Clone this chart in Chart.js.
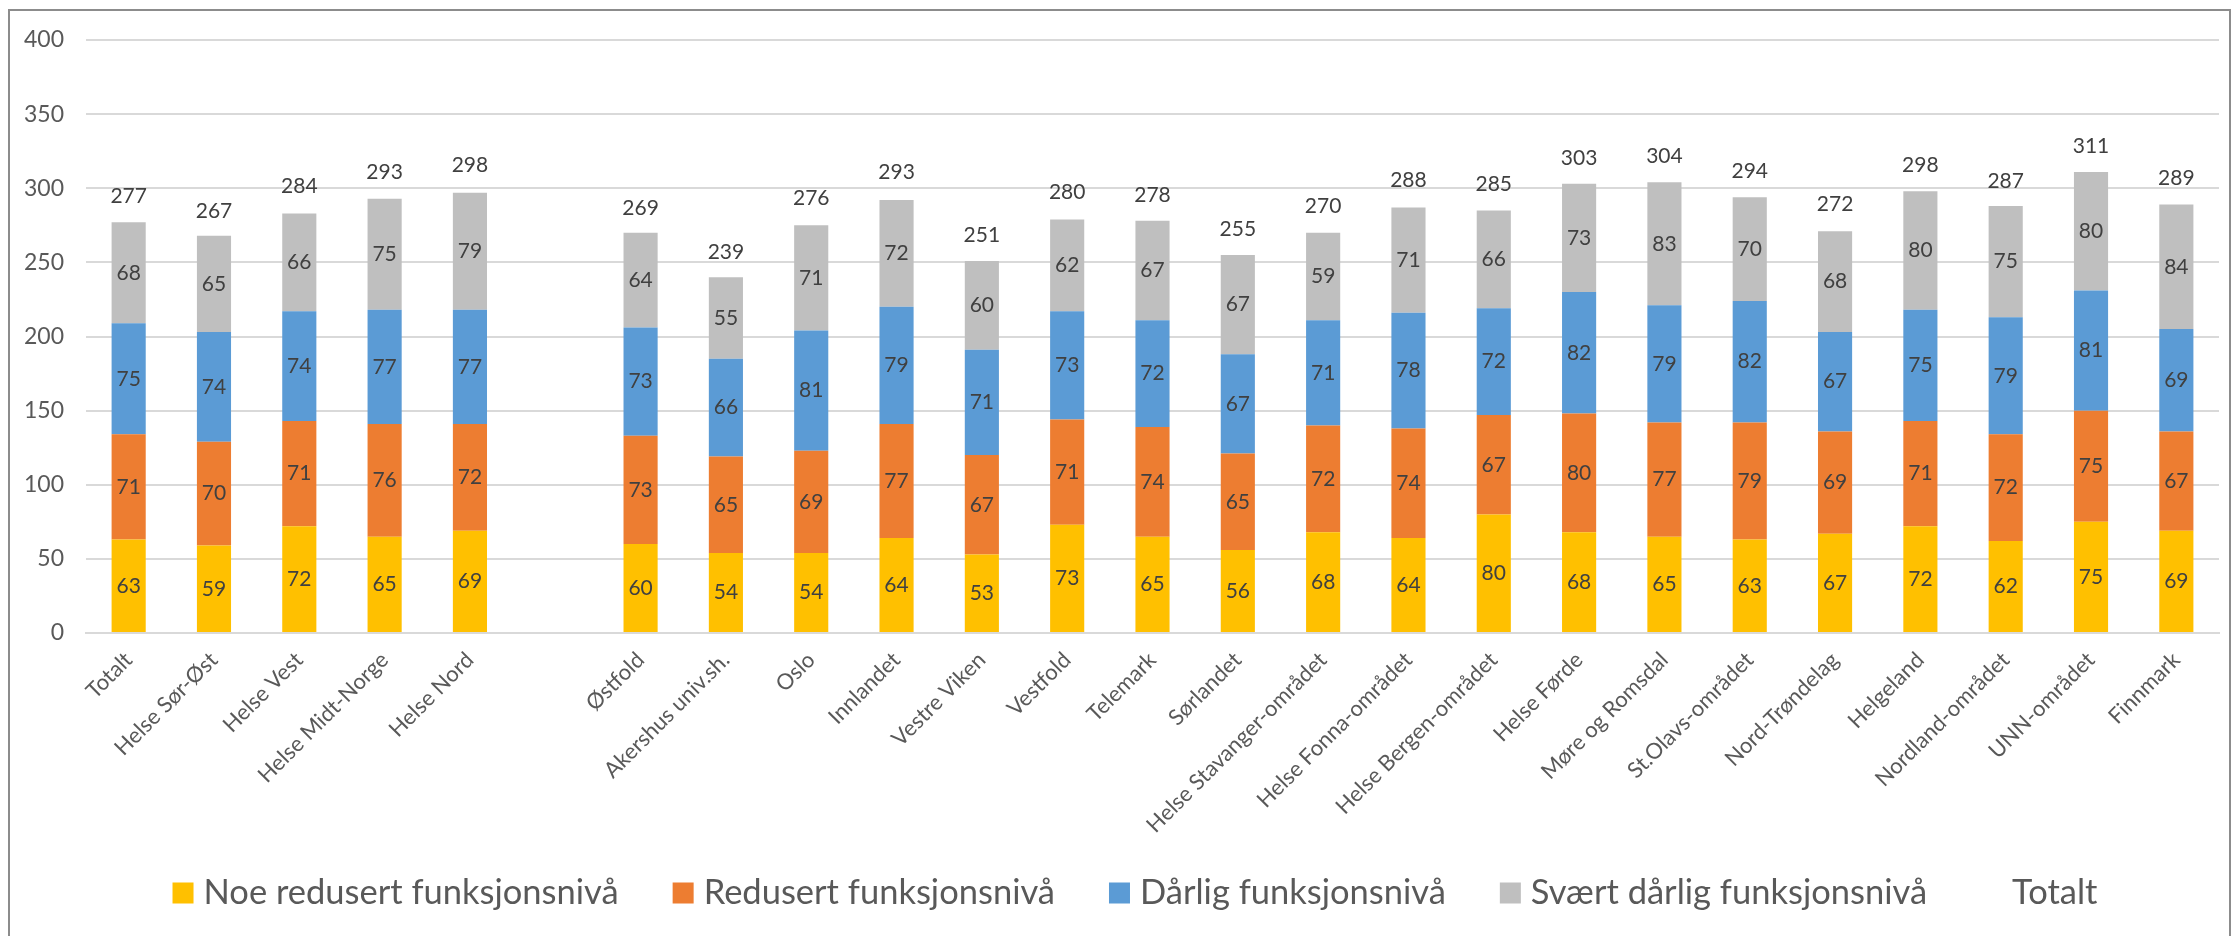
<!DOCTYPE html>
<html>
<head>
<meta charset="utf-8">
<script src="https://cdn.jsdelivr.net/npm/chart.js@4.4.0/dist/chart.umd.min.js"></script>
<style>
  html, body { margin: 0; padding: 0; background: #fff; overflow: hidden; }
  #frame { position: absolute; left: 8px; top: 9px; width: 2219px; height: 1000px; border: 2px solid #8c8c8c; }
  #wrap { position: absolute; left: 0; top: 0; width: 2231px; height: 936px; }
</style>
</head>
<body>
<div id="frame"></div>
<div id="wrap"><canvas id="myChart" width="2231" height="936"></canvas></div>
<script>
'use strict';

const categories = [
  'Totalt', 'Helse Sør-Øst', 'Helse Vest', 'Helse Midt-Norge', 'Helse Nord', '',
  'Østfold', 'Akershus univ.sh.', 'Oslo', 'Innlandet', 'Vestre Viken', 'Vestfold',
  'Telemark', 'Sørlandet', 'Helse Stavanger-området', 'Helse Fonna-området',
  'Helse Bergen-området', 'Helse Førde', 'Møre og Romsdal', 'St.Olavs-området',
  'Nord-Trøndelag', 'Helgeland', 'Nordland-området', 'UNN-området', 'Finnmark'
];

const noeRedusert = [63, 59, 72, 65, 69, null, 60, 54, 54, 64, 53, 73, 65, 56, 68, 64, 80, 68, 65, 63, 67, 72, 62, 75, 69];
const redusert    = [71, 70, 71, 76, 72, null, 73, 65, 69, 77, 67, 71, 74, 65, 72, 74, 67, 80, 77, 79, 69, 71, 72, 75, 67];
const darlig      = [75, 74, 74, 77, 77, null, 73, 66, 81, 79, 71, 73, 72, 67, 71, 78, 72, 82, 79, 82, 67, 75, 79, 81, 69];
const svaertDarlig = [68, 65, 66, 75, 79, null, 64, 55, 71, 72, 60, 62, 67, 67, 59, 71, 66, 73, 83, 70, 68, 80, 75, 80, 84];
const totalt      = [277, 267, 284, 293, 298, null, 269, 239, 276, 293, 251, 280, 278, 255, 270, 288, 285, 303, 304, 294, 272, 298, 287, 311, 289];

const yTicks = [0, 50, 100, 150, 200, 250, 300, 350, 400];

const FONT = 'Lato, "Open Sans", sans-serif';

// value labels in the middle of each segment, totals above
const valueLabels = {
  id: 'valueLabels',
  afterDatasetsDraw(chart) {
    const ctx = chart.ctx;
    ctx.save();
    ctx.textAlign = 'center';
    ctx.textBaseline = 'middle';
    ctx.fillStyle = '#404040';
    ctx.font = '21px ' + FONT;
    chart.data.datasets.forEach((ds, i) => {
      const meta = chart.getDatasetMeta(i);
      meta.data.forEach((el, j) => {
        const v = ds.data[j];
        if (v == null) return;
        if (ds.type === 'line') {
          ctx.fillText(v, el.x, el.y - 26);
        } else {
          ctx.fillText(v, el.x, (el.y + el.base) / 2);
        }
      });
    });
    ctx.restore();
  }
};

// legend drawn by hand so spacing can follow the original
const bottomLegend = {
  id: 'bottomLegend',
  afterDraw(chart) {
    const ctx = chart.ctx;
    ctx.save();
    ctx.font = '34.5px ' + FONT;
    ctx.textBaseline = 'middle';
    const box = 21, gap = 10, between = 54;
    const items = chart.data.datasets.map(ds => ({
      text: ds.label,
      color: ds.type === 'line' ? null : ds.backgroundColor,
      w: ctx.measureText(ds.label).width
    }));
    let total = 0;
    items.forEach((it, i) => {
      total += box + gap + it.w + (i < items.length - 1 ? between : 0);
    });
    let x = 1135 - total / 2;
    const y = 893;
    items.forEach(it => {
      if (it.color) {
        ctx.fillStyle = it.color;
        ctx.fillRect(x, y - box / 2, box, box);
      }
      x += box + gap;
      ctx.fillStyle = '#595959';
      ctx.fillText(it.text, x, y);
      x += it.w + between;
    });
    ctx.restore();
  }
};

const data = {
  labels: categories,
  datasets: [
    { label: 'Noe redusert funksjonsnivå', data: noeRedusert, backgroundColor: '#FFC000', stack: 'bars' },
    { label: 'Redusert funksjonsnivå', data: redusert, backgroundColor: '#ED7D31', stack: 'bars' },
    { label: 'Dårlig funksjonsnivå', data: darlig, backgroundColor: '#5B9BD5', stack: 'bars' },
    { label: 'Svært dårlig funksjonsnivå', data: svaertDarlig, backgroundColor: '#BFBFBF', stack: 'bars' },
    {
      type: 'line', label: 'Totalt', data: totalt, stack: 'totals',
      showLine: false, pointRadius: 0, borderColor: 'rgba(0,0,0,0)', backgroundColor: 'rgba(0,0,0,0)'
    }
  ]
};

const config = {
  type: 'bar',
  data: data,
  options: {
    responsive: false,
    animation: false,
    devicePixelRatio: 1,
    events: [],
    barPercentage: 0.4,
    categoryPercentage: 1.0,
    layout: { padding: { top: 40, right: 12, left: 0, bottom: 0 } },
    plugins: {
      legend: { display: false },
      tooltip: { enabled: false }
    },
    scales: {
      x: {
        stacked: true,
        grid: { display: false },
        border: { display: true, color: '#D9D9D9', width: 2 },
        ticks: {
          autoSkip: false,
          maxRotation: 45,
          minRotation: 45,
          padding: 6,
          color: '#595959',
          font: { family: FONT, size: 22 }
        },
        afterFit(scale) { scale.height = 303; }
      },
      y: {
        stacked: true,
        min: 0,
        max: 400,
        afterBuildTicks(scale) { scale.ticks = yTicks.map(v => ({ value: v })); },
        grid: { color: '#D9D9D9', lineWidth: 2, drawTicks: false },
        border: { display: false },
        ticks: {
          padding: 22,
          color: '#595959',
          font: { family: FONT, size: 23 }
        },
        afterFit(scale) { scale.width = 86; }
      }
    }
  },
  plugins: [valueLabels, bottomLegend]
};

const myChart = new Chart(document.getElementById('myChart'), config);
</script>
</body>
</html>
